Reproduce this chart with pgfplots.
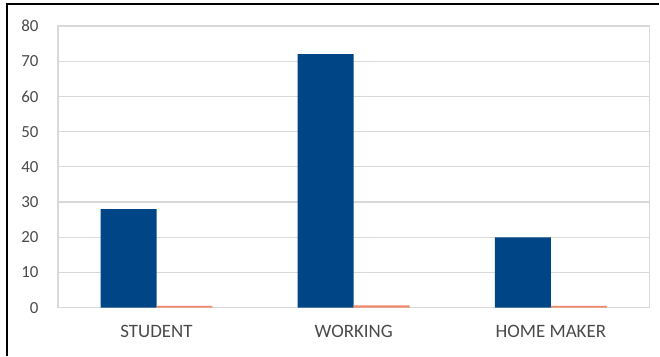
\documentclass[border=0pt]{standalone}
\usepackage{pgfplots}
\pgfplotsset{compat=1.18}
\usepackage{fontspec}
\setmainfont{Carlito}
\definecolor{barblue}{HTML}{004586}
\definecolor{barorange}{HTML}{F08A6A}
\definecolor{gridgray}{HTML}{D9D9D9}
\definecolor{textgray}{HTML}{4A4A4A}
\begin{document}
\begin{tikzpicture}[x=1bp,y=1bp]
\path (0,0) rectangle (660,356);
\draw[black,line width=1.2bp] (7,0) -- (7,352) -- (660,352);
\begin{axis}[
  at={(58bp,48bp)}, anchor=south west,
  scale only axis, width=592bp, height=282bp,
  xmin=-0.5, xmax=2.5, ymin=0, ymax=80,
  ytick={0,10,...,80},
  xtick=data,
  xticklabels={STUDENT,WORKING,HOME MAKER},
  ybar, bar width=56bp,
  ymajorgrids, grid style={gridgray,line width=1.2bp},
  axis line style={gridgray,line width=1.2bp},
  tick style={draw=none},
  tick label style={text=textgray},
  xticklabel style={font=\fontsize{19}{21}\selectfont, yshift=-10bp},
  yticklabel style={font=\fontsize{17}{19}\selectfont, xshift=-16bp},
  /pgf/number format/assume math mode=true,
  clip=false,
]
\addplot[fill=barblue, draw=none, bar shift=-28bp] coordinates {(0,28) (1,72) (2,20)};
\addplot[fill=barorange, draw=none, bar shift=28bp] coordinates {(0,0.5) (1,0.7) (2,0.5)};
\end{axis}
\end{tikzpicture}
\end{document}
